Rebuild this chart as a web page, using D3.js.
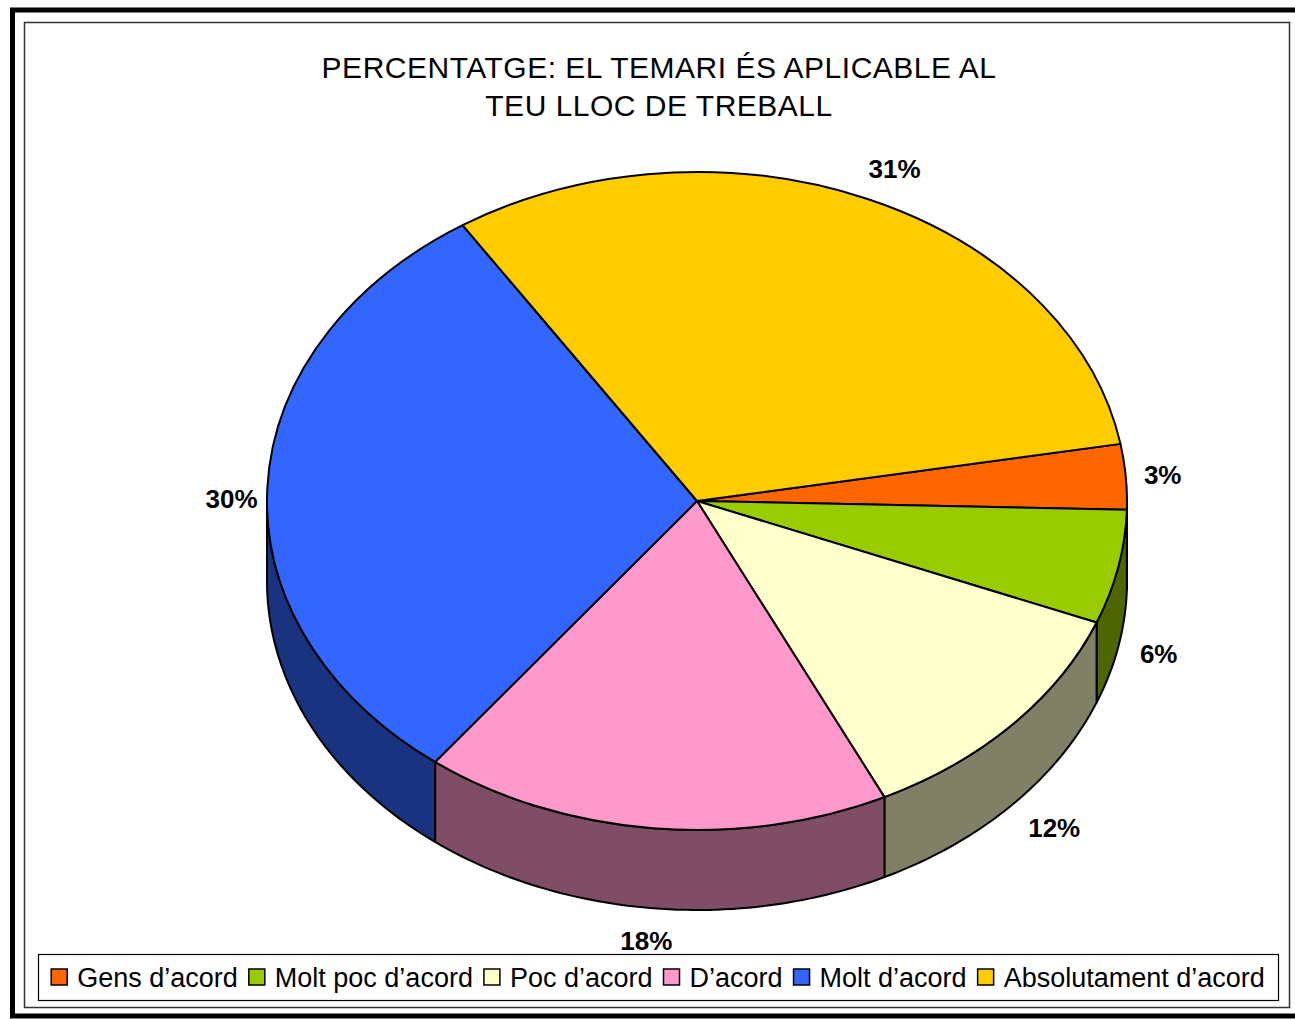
<!DOCTYPE html>
<html>
<head>
<meta charset="utf-8">
<script src="https://cdn.jsdelivr.net/npm/d3@7"></script>
<style>
  body { margin: 0; background: #fff; }
  svg { display: block; }
  text { font-family: "Liberation Sans", Arial, sans-serif; }
</style>
</head>
<body>
<div id="chart"></div>
<script>
// dades del grafic
var titleLines = ['PERCENTATGE: EL TEMARI ÉS APLICABLE AL', 'TEU LLOC DE TREBALL'];
var categories = ['Gens d’acord', 'Molt poc d’acord', 'Poc d’acord', 'D’acord', 'Molt d’acord', 'Absolutament d’acord'];
// percentatges llegits dels angles de cada porcio (l'etiqueta mostra el valor arrodonit)
var percents = [3.2, 5.6, 11.8, 17.6, 30.4, 31.4];
var palette = ['#FF6600', '#99CC00', '#FFFFCC', '#FF99CC', '#3366FF', '#FFCC00'];

var svgWidth = 1295;
var svgHeight = 1019;

var svg = d3.select('#chart').append('svg')
    .attr('width', svgWidth)
    .attr('height', svgHeight);

// marcs
svg.append('rect')
    .attr('x', 12.5).attr('y', 10)
    .attr('width', 1400).attr('height', 1006)
    .attr('fill', 'none').attr('stroke', '#000').attr('stroke-width', 5);
svg.append('rect')
    .attr('x', 24.5).attr('y', 22.5)
    .attr('width', 1265).attr('height', 985)
    .attr('fill', '#fff').attr('stroke', '#333').attr('stroke-width', 1.5);

// titol
svg.append('g').selectAll('text')
    .data(titleLines)
    .enter()
    .append('text')
    .attr('x', 659)
    .attr('y', (d, i) => 78 + i * 38)
    .attr('text-anchor', 'middle')
    .attr('font-size', 30)
    .attr('letter-spacing', 0.5)
    .attr('fill', '#000')
    .text(d => d);

// pastis 3D
var cx = 697, cy = 501, rx = 430, ry = 329, depth = 80;
var color = d3.scaleOrdinal().domain(categories).range(palette);
var side = c => { var r = d3.rgb(c); return d3.rgb(r.r / 2, r.g / 2, r.b / 2).formatHex(); };

var start = 80 * Math.PI / 180;
var pie = d3.pie().sort(null).value(d => d.v).startAngle(start).endAngle(start + 2 * Math.PI);
var data = categories.map((c, i) => ({ cat: c, v: percents[i] }));
var arcs = pie(data);

// angle parametric (0 = dreta, horari)
var theta = a => a - Math.PI / 2;
var pt = (t, dy) => [cx + rx * Math.cos(t), cy + ry * Math.sin(t) + (dy || 0)];
var line = d3.line();

var walls = svg.append('g');
arcs.forEach(function (d) {
    var a = Math.max(theta(d.startAngle), 0);
    var b = Math.min(theta(d.endAngle), Math.PI);
    if (b <= a) return;
    var ts = d3.range(0, 61).map(i => a + (b - a) * i / 60);
    var pts = ts.map(t => pt(t)).concat(ts.slice().reverse().map(t => pt(t, depth)));
    walls.append('path')
        .attr('d', line(pts) + 'Z')
        .attr('fill', side(color(d.data.cat)))
        .attr('stroke', '#000')
        .attr('stroke-width', 2)
        .attr('stroke-linejoin', 'round');
});

var arc = d3.arc().innerRadius(0).outerRadius(rx);
svg.append('g')
    .attr('transform', `translate(${cx},${cy}) scale(1,${ry / rx})`)
    .selectAll('path')
    .data(arcs)
    .enter()
    .append('path')
    .attr('d', arc)
    .attr('fill', d => color(d.data.cat))
    .attr('stroke', '#000')
    .attr('stroke-width', 2)
    .attr('vector-effect', 'non-scaling-stroke')
    .attr('stroke-linejoin', 'round');

// llegenda
svg.append('rect')
    .attr('x', 38.5).attr('y', 954.5)
    .attr('width', 1240).attr('height', 46)
    .attr('fill', '#fff').attr('stroke', '#000').attr('stroke-width', 1.2);

var legend = svg.append('g');
var lx = 0;
categories.forEach(function (c) {
    var item = legend.append('g').attr('transform', `translate(${lx},0)`);
    item.append('rect')
        .attr('x', 0).attr('y', 969)
        .attr('width', 16).attr('height', 16)
        .attr('fill', color(c)).attr('stroke', '#000').attr('stroke-width', 1.5);
    var t = item.append('text')
        .attr('x', 26).attr('y', 987)
        .attr('font-size', 27)
        .text(c);
    lx += 26 + t.node().getComputedTextLength() + 11;
});
lx -= 11;
legend.attr('transform', `translate(${658 - lx / 2},0)`);

// etiquetes
var mid = d => theta((d.startAngle + d.endAngle) / 2);
svg.append('g').selectAll('text')
    .data(arcs)
    .enter()
    .append('text')
    .attr('x', function (d) {
        var t = mid(d);
        return cx + rx * Math.cos(t) * (1.08 + 0.08 * Math.abs(Math.sin(t)));
    })
    .attr('y', function (d) {
        var s = Math.sin(mid(d));
        return cy + 1.1 * ry * s + depth * Math.max(0, Math.min(1, s * 4 + 0.3));
    })
    .attr('dy', '0.36em')
    .attr('text-anchor', 'middle')
    .attr('font-size', 26)
    .attr('font-weight', 'bold')
    .text(d => Math.round(d.data.v) + '%');
</script>
</body>
</html>
